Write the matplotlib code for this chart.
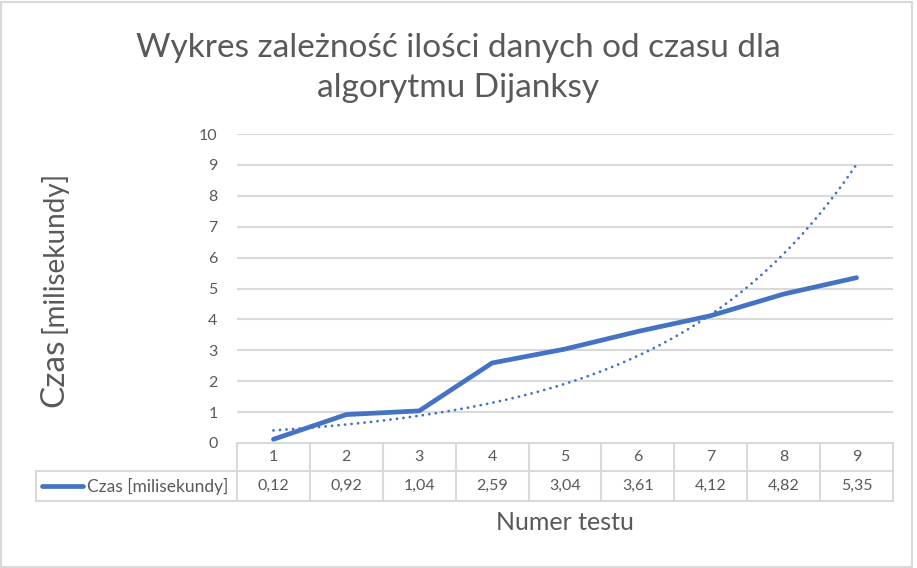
import numpy as np
import matplotlib
matplotlib.use("Agg")
import matplotlib.pyplot as plt
from matplotlib.transforms import blended_transform_factory
from matplotlib.patches import Rectangle
from matplotlib.lines import Line2D

plt.rcParams['font.family'] = ['Lato', 'DejaVu Sans']

# ---- data ----
tests = [1, 2, 3, 4, 5, 6, 7, 8, 9]
times = [0.12, 0.92, 1.04, 2.59, 3.04, 3.61, 4.12, 4.82, 5.35]
time_labels = ["0,12", "0,92", "1,04", "2,59", "3,04", "3,61", "4,12", "4,82", "5,35"]
y_ticks = [0, 1, 2, 3, 4, 5, 6, 7, 8, 9, 10]
series_name = "Czas [milisekundy]"
title = "Wykres zależność ilości danych od czasu dla\nalgorytmu Dijanksy"
xlabel = "Numer testu"

W, H = 917, 568
TXT = "#595959"
GRID = "#D9D9D9"
BLUE = "#4472C4"

fig = plt.figure(figsize=(W / 100, H / 100), dpi=100)
fig.patch.set_facecolor("white")

def fx(px):
    return px / W

def fy(py):
    return 1 - py / H

left, right, top, bottom = 237, 893, 134, 443
ax = fig.add_axes([fx(left), fy(bottom), fx(right) - fx(left), (bottom - top) / H])
ax.set_xlim(0.5, 9.5)
ax.set_ylim(0, 10)
for s in ax.spines.values():
    s.set_visible(False)
ax.set_xticks([])
ax.set_yticks(y_ticks)
ax.set_yticklabels([str(t) for t in y_ticks])
ax.tick_params(axis="y", length=0, pad=14, labelsize=11.5, labelcolor=TXT)
for t in y_ticks[1:]:
    ax.axhline(t, color=GRID, lw=1.5, zorder=0)

# data line
ax.plot(tests, times, color=BLUE, lw=3.4, solid_capstyle="round", solid_joinstyle="round", zorder=3)

# exponential trendline (fit of the data, as Excel does)
b, a = np.polyfit(tests, np.log(times), 1)
xs = np.linspace(tests[0], tests[-1], 400)
ax.plot(xs, np.exp(a + b * xs), color=BLUE, lw=2.0, linestyle=(0, (0.05, 2.3)),
        dash_capstyle="round", zorder=2)

# ---- data table ----
hpx = bottom - top
tr = blended_transform_factory(ax.transData, ax.transAxes)
row1 = -(471 - bottom) / hpx
row2 = -(501 - bottom) / hpx
lkw = dict(color=GRID, lw=1.5, clip_on=False, transform=tr)
ax.add_line(Line2D([0.5, 9.5], [0, 0], **lkw))
for xb in np.arange(0.5, 10.5, 1):
    ax.add_line(Line2D([xb, xb], [0, row2], **lkw))
fkw = dict(color=GRID, lw=1.5, transform=fig.transFigure)
fig.add_artist(Line2D([fx(36), fx(right)], [fy(471), fy(471)], **fkw))
fig.add_artist(Line2D([fx(36), fx(right)], [fy(501), fy(501)], **fkw))
fig.add_artist(Line2D([fx(36), fx(36)], [fy(471), fy(501)], **fkw))

for i, t in enumerate(tests):
    ax.text(t, (0 + row1) / 2, str(t), transform=tr, ha="center", va="center",
            fontsize=11.5, color=TXT)
    ax.text(t, (row1 + row2) / 2, time_labels[i], transform=tr, ha="center", va="center",
            fontsize=11.5, color=TXT)

# legend key in table
fig.add_artist(Line2D([fx(42), fx(83)], [fy(486), fy(486)], color=BLUE, lw=3.4,
                      solid_capstyle="round", transform=fig.transFigure))
fig.text(fx(87), fy(486), series_name, ha="left", va="center", fontsize=12.5, color=TXT)

# ---- titles ----
fig.text(fx(458), fy(68), title, ha="center", va="center", fontsize=24,
         color=TXT, linespacing=1.42)
fig.text(fx(565), fy(523), xlabel, ha="center", va="center", fontsize=18, color=TXT)

# y label: "Czas" larger, "[milisekundy]" slightly smaller
fig.text(fx(54), fy(373), "Czas", rotation=90, ha="center", va="center",
         fontsize=24, color=TXT)
fig.text(fx(54), fy(252), "[milisekundy]", rotation=90, ha="center", va="center",
         fontsize=20, color=TXT)

# figure border
fig.add_artist(Rectangle((0.001, 0.002), 0.994, 0.995, transform=fig.transFigure,
                         fill=False, edgecolor=GRID, lw=1.5))

fig.savefig("out.png", dpi=100, facecolor="white")
